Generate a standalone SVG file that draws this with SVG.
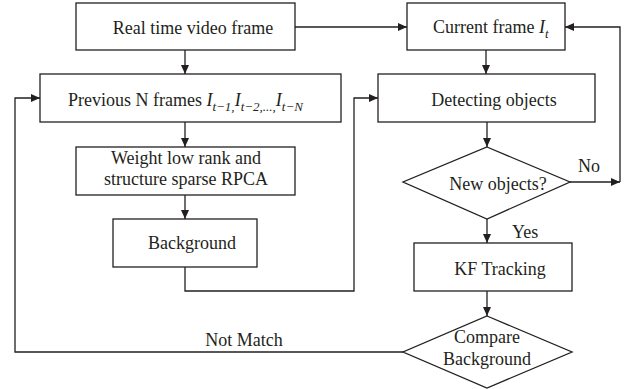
<svg xmlns="http://www.w3.org/2000/svg" width="633" height="389" viewBox="0 0 633 389">
<style>
.n{fill:#fff;stroke:#231f20;stroke-width:1.3}
.c{fill:none;stroke:#231f20;stroke-width:1.3}
text{font-family:"Liberation Serif","Times New Roman",serif;font-size:18px;fill:#231f20}
.m{text-anchor:middle}
.i{font-style:italic}
.s{font-size:13px;font-style:italic}
</style>
<defs>
<marker id="ah" markerUnits="userSpaceOnUse" markerWidth="10" markerHeight="10" refX="9" refY="5" orient="auto">
<path d="M0,1 L9,5 L0,9 Z" fill="#231f20"/>
</marker>
</defs>
<rect width="633" height="389" fill="#fff"/>
<g id="connectors">
<path class="c" d="M295,27 H407" marker-end="url(#ah)"/>
<path class="c" d="M185,50 V74" marker-end="url(#ah)"/>
<path class="c" d="M185,122 V147" marker-end="url(#ah)"/>
<path class="c" d="M185,195 V219" marker-end="url(#ah)"/>
<path class="c" d="M185,267 V291 H354 V98 H378" marker-end="url(#ah)"/>
<path class="c" d="M486,50 V74" marker-end="url(#ah)"/>
<path class="c" d="M487,122 V147" marker-end="url(#ah)"/>
<path class="c" d="M487,219 V243" marker-end="url(#ah)"/>
<path class="c" d="M487,291 V316" marker-end="url(#ah)"/>
<path class="c" d="M570,182 H620" marker-end="url(#ah)"/>
<path class="c" d="M620,182 V27 H565" marker-end="url(#ah)"/>
<path class="c" d="M403,352 H15 V98 H40" marker-end="url(#ah)"/>
<text x="578" y="172">No</text>
<text x="512" y="238">Yes</text>
<text class="m" x="244" y="346">Not Match</text>
</g>
<g id="real-time">
<rect class="n" x="76" y="3" width="219" height="47"/>
<text class="m" x="193" y="34">Real time video frame</text>
</g>
<g id="previous">
<rect class="n" x="40" y="74" width="301" height="48"/>
<text x="68" y="106">Previous N frames <tspan class="i">I</tspan><tspan class="s" dy="5">t−1,</tspan><tspan class="i" dy="-5">I</tspan><tspan class="s" dy="5">t−2,...,</tspan><tspan class="i" dy="-5">I</tspan><tspan class="s" dy="5">t−N</tspan></text>
</g>
<g id="rpca">
<rect class="n" x="76" y="147" width="219" height="48"/>
<text class="m" x="186" y="164">Weight low rank and</text>
<text class="m" x="186" y="185">structure sparse RPCA</text>
</g>
<g id="background">
<rect class="n" x="113" y="219" width="144" height="48"/>
<text class="m" x="192" y="249">Background</text>
</g>
<g id="current">
<rect class="n" x="407" y="3" width="158" height="47"/>
<text x="433" y="33">Current frame <tspan class="i">I</tspan><tspan class="s" dy="5">t</tspan></text>
</g>
<g id="detecting">
<rect class="n" x="378" y="74" width="217" height="48"/>
<text class="m" x="494" y="106">Detecting objects</text>
</g>
<g id="new-objects">
<polygon class="n" points="487,147 570,182 487,219 403,182"/>
<text class="m" x="498" y="190">New objects?</text>
</g>
<g id="kf">
<rect class="n" x="414" y="243" width="158" height="48"/>
<text class="m" x="500" y="275">KF Tracking</text>
</g>
<g id="compare">
<polygon class="n" points="487,316 572,352 487,388 403,352"/>
<text class="m" x="487" y="343">Compare</text>
<text class="m" x="487" y="365">Background</text>
</g>
</svg>
